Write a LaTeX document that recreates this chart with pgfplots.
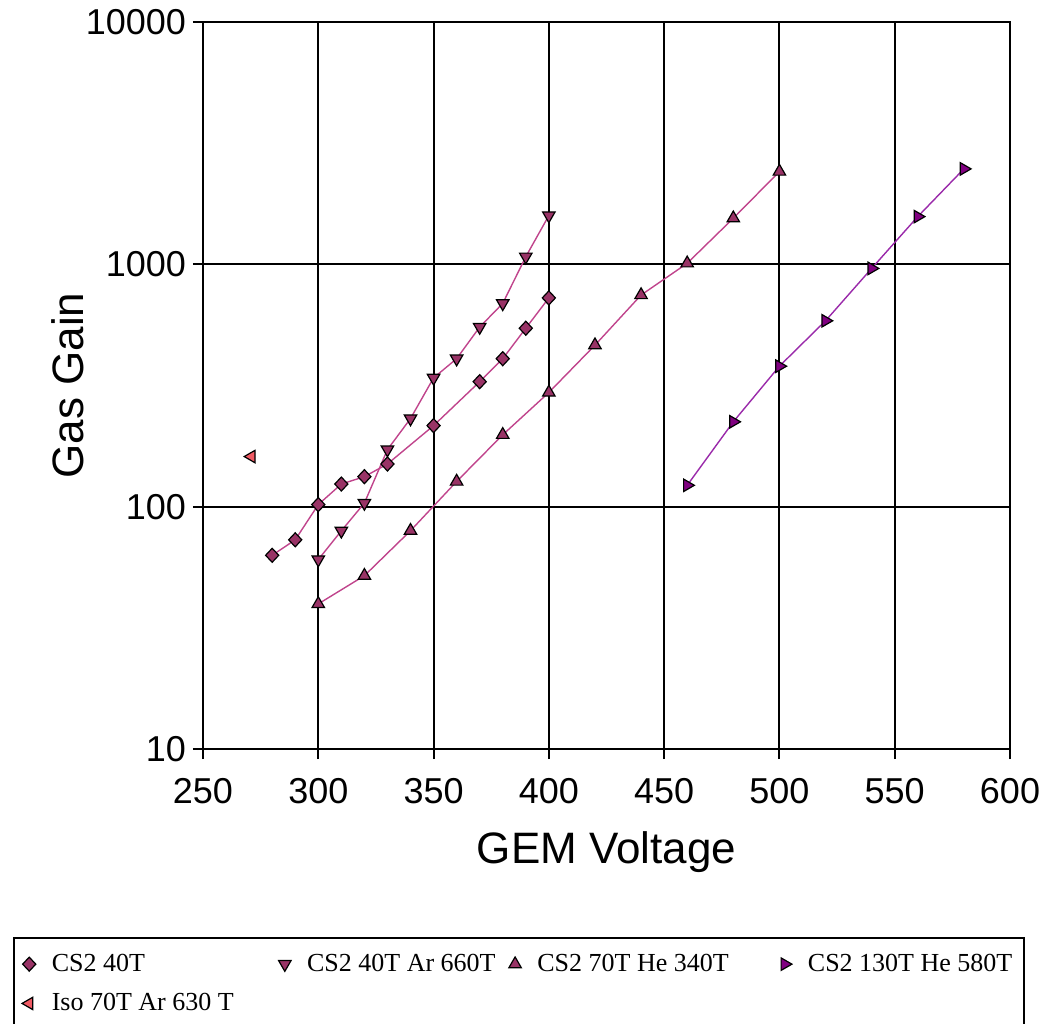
\documentclass[border=0pt]{standalone}
\usepackage{fontspec}
\setmainfont{Liberation Sans}
\newfontfamily\legfont{Liberation Serif}
\usepackage{pgfplots}
\pgfplotsset{compat=1.18}

\definecolor{plum}{HTML}{993366}
\definecolor{plumline}{HTML}{C0448C}
\definecolor{purp}{HTML}{800080}
\definecolor{purpline}{HTML}{9A2AAA}
\definecolor{coral}{HTML}{F05A64}

\begin{document}
\begin{tikzpicture}
\useasboundingbox (-101.5pt,-137pt) rectangle (420pt,374.5pt);
\begin{axis}[
 at={(0pt,0pt)}, anchor=south west,
 scale only axis, width=403.5pt, height=363.5pt,
 xmin=250, xmax=600, ymode=log, ymin=10, ymax=10000,
 xtick={250,300,...,600},
 ytick={10,100,1000,10000}, yticklabels={10,100,1000,10000},
 yminorticks=false,
 grid=major, major grid style={black, line width=1pt},
 axis line style={black, line width=1pt},
 tick pos=left, tick align=center, major tick length=10pt,
 tick style={black, line width=1pt},
 ticklabel style={font=\fontsize{18}{20}\selectfont},
 xticklabel style={yshift=-6pt},
 /pgf/number format/assume math mode=true,
 xlabel={GEM Voltage}, ylabel={Gas Gain},
 label style={font=\fontsize{22}{26}\selectfont},
 xlabel style={at={(axis description cs:0.5,-0.1417)}, anchor=center},
 ylabel style={at={(axis description cs:-0.1673,0.5)}, anchor=center},
 legend columns=4,
 legend cell align=left,
 legend image code/.code={\draw[#1, only marks] plot coordinates {(0pt,0pt)};},
 legend style={at={(-0.2354,-0.2586)}, anchor=north west, draw=black, line width=1pt,
   font=\legfont\fontsize{13}{15}\selectfont, inner xsep=4pt, inner ysep=8pt,
   nodes={inner sep=0pt},
   row sep=9.5pt, column sep=0pt,
   /tikz/every odd column/.append style={column sep=8pt},
   /tikz/every even column/.append style={column sep=0pt}},
]
\addplot[plumline, line width=0.7pt, mark=diamond*, mark size=3.5pt,
  mark options={fill=plum, draw=black, line width=0.6pt, xscale=1.25, solid}]
 coordinates {(280,63) (290,73) (300,102) (310,124) (320,133) (330,150) (350,216) (370,328) (380,408) (390,545) (400,727)};
\addlegendentry{\makebox[113.4pt][l]{CS2 40T}}
\addplot[plumline, line width=0.7pt, mark=triangle*, mark size=3.6pt,
  mark options={fill=plum, draw=black, line width=0.6pt, rotate=180, solid}]
 coordinates {(300,60.5) (310,79.5) (320,103.5) (330,172) (340,231) (350,340) (360,408) (370,551) (380,690) (390,1075) (400,1590)};
\addlegendentry{\makebox[100.9pt][l]{CS2 40T Ar 660T}}
\addplot[plumline, line width=0.7pt, mark=triangle*, mark size=3.6pt,
  mark options={fill=plum, draw=black, line width=0.6pt, solid}]
 coordinates {(300,39.7) (320,51.9) (340,79.6) (360,127) (380,198) (400,296) (420,464) (440,747) (460,1010) (480,1550) (500,2415)};
\addlegendentry{\makebox[121.9pt][l]{CS2 70T He 340T}}
\addplot[purpline, line width=0.7pt, mark=triangle*, mark size=3.6pt,
  mark options={fill=purp, draw=black, line width=0.6pt, rotate=-90, solid}]
 coordinates {(460,122.5) (480,224) (500,380) (520,585) (540,962) (560,1574) (580,2477)};
\addlegendentry{\makebox[104pt][l]{CS2 130T He 580T}}
\addplot[only marks, mark=triangle*, mark size=3.6pt,
  mark options={fill=coral, draw=black, line width=0.6pt, rotate=90, solid}]
 coordinates {(271,161)};
\addlegendentry{Iso 70T Ar 630 T}
\end{axis}
\end{tikzpicture}
\end{document}
